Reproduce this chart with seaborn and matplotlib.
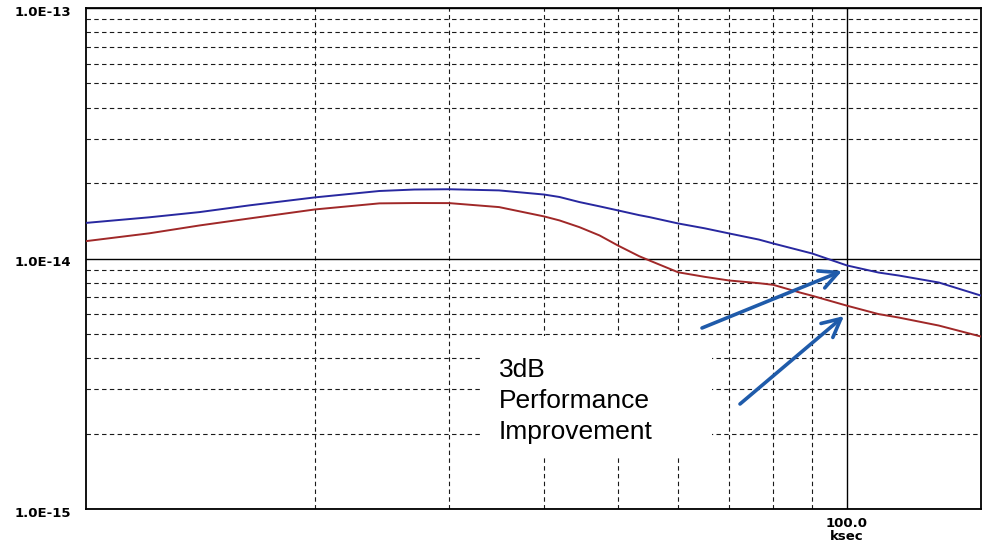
import numpy as np
import pandas as pd
import matplotlib
matplotlib.use("Agg")
import matplotlib.pyplot as plt
import matplotlib.patches as mpatches
import matplotlib.transforms as mtransforms
from matplotlib.ticker import LogLocator, FixedLocator, NullFormatter, FixedFormatter
import seaborn as sns

# Averaging time (ksec) and deviation values for the two curves
t_ksec = [10, 12.1, 14.1, 16.4, 20, 24.3, 27, 30, 34.9, 40, 41.9, 44.5, 47.3, 50,
          53.3, 55, 60, 65, 70, 76.6, 80, 86.5, 90, 100, 110, 117, 132, 150]
blue_dev = [1.387e-14, 1.46e-14, 1.532e-14, 1.63e-14, 1.754e-14, 1.86e-14, 1.885e-14,
            1.89e-14, 1.87e-14, 1.80e-14, 1.76e-14, 1.68e-14, 1.615e-14, 1.556e-14,
            1.49e-14, 1.463e-14, 1.38e-14, 1.32e-14, 1.259e-14, 1.19e-14,
            1.148e-14, 1.08e-14, 1.047e-14, 0.938e-14, 0.879e-14, 0.855e-14,
            0.802e-14, 0.711e-14]
red_dev = [1.173e-14, 1.26e-14, 1.355e-14, 1.445e-14, 1.57e-14, 1.66e-14, 1.665e-14,
           1.664e-14, 1.604e-14, 1.472e-14, 1.419e-14, 1.334e-14, 1.236e-14, 1.127e-14,
           1.022e-14, 0.982e-14, 0.881e-14, 0.845e-14, 0.817e-14, 0.797e-14,
           0.785e-14, 0.733e-14, 0.71e-14, 0.648e-14, 0.60e-14, 0.581e-14,
           0.540e-14, 0.488e-14]

y_ticks = [1e-15, 1e-14, 1e-13]
y_tick_labels = ["1.0E-15", "1.0E-14", "1.0E-13"]
x_ticks = [100]
x_tick_labels = ["100.0\nksec"]
note_text = "3dB\nPerformance\nImprovement"

df = pd.DataFrame({
    "t": t_ksec * 2,
    "dev": blue_dev + red_dev,
    "series": ["blue"] * len(t_ksec) + ["red"] * len(t_ksec),
})

sns.set_style("white")
W, H = 983, 545
fig = plt.figure(figsize=(W / 100, H / 100), dpi=100)
ax = fig.add_axes([86 / W, 1 - 509 / H, (981 - 86) / W, (509 - 8) / H])

sns.lineplot(data=df, x="t", y="dev", hue="series",
             palette={"blue": "#2828A0", "red": "#A02828"},
             linewidth=1.4, legend=False, ax=ax, zorder=5)

ax.set_xscale("log")
ax.set_yscale("log")
ax.set_xlim(10, 150)
ax.set_ylim(1e-15, 1e-13)

# ticks and grid
ax.xaxis.set_major_locator(FixedLocator(x_ticks))
ax.xaxis.set_major_formatter(FixedFormatter(x_tick_labels))
ax.xaxis.set_minor_locator(LogLocator(base=10, subs=np.arange(2, 10)))
ax.xaxis.set_minor_formatter(NullFormatter())
ax.yaxis.set_major_locator(FixedLocator(y_ticks))
ax.yaxis.set_major_formatter(FixedFormatter(y_tick_labels))
ax.yaxis.set_minor_locator(LogLocator(base=10, subs=np.arange(2, 10)))
ax.yaxis.set_minor_formatter(NullFormatter())

ax.grid(which="major", color="black", linewidth=1.0, linestyle="-")
ax.grid(which="minor", color="#1a1a1a", linewidth=0.8, linestyle=(0, (4, 3)))
ax.set_axisbelow(True)

ax.tick_params(which="both", length=0)
ax.tick_params(axis="y", pad=11)
ax.tick_params(axis="x", pad=6)
shift_down = mtransforms.ScaledTranslation(0, -3 / 100, fig.dpi_scale_trans)
for lab in ax.get_yticklabels():
    lab.set_transform(lab.get_transform() + shift_down)
for lab in ax.get_yticklabels() + ax.get_xticklabels():
    lab.set_fontfamily("DejaVu Sans")
    lab.set_fontweight("bold")
    lab.set_fontsize(9.5)
    lab.set_color("black")
for lab in ax.get_xticklabels():
    lab.set_linespacing(0.95)

ax.set_xlabel("")
ax.set_ylabel("")
for s in ax.spines.values():
    s.set_visible(True)
    s.set_color("black")
    s.set_linewidth(1.3)

# white note box with text
box = mpatches.Rectangle((480 / W, 1 - 458 / H), 232 / W, 122 / H,
                         transform=fig.transFigure, facecolor="white",
                         edgecolor="none", zorder=3)
ax.add_artist(box)
box.set_clip_on(False)
fig.text(499 / W, 1 - 358 / H, note_text, ha="left", va="top",
         fontsize=19, family="Liberation Sans", linespacing=1.36, color="black",
         zorder=6)

# arrows pointing at the two curves
arrow_color = "#1F5BAA"
for (x0, y0), (x1, y1) in [((702, 328), (842, 271)), ((740, 404), (844, 316))]:
    ax.annotate("", xy=(x1 / W, 1 - y1 / H), xycoords="figure fraction",
                xytext=(x0 / W, 1 - y0 / H), textcoords="figure fraction",
                arrowprops=dict(arrowstyle="->,head_length=0.6,head_width=0.3",
                                color=arrow_color, lw=2.6, mutation_scale=22,
                                shrinkA=0, shrinkB=0),
                zorder=7)

fig.savefig("out.png", dpi=100)
